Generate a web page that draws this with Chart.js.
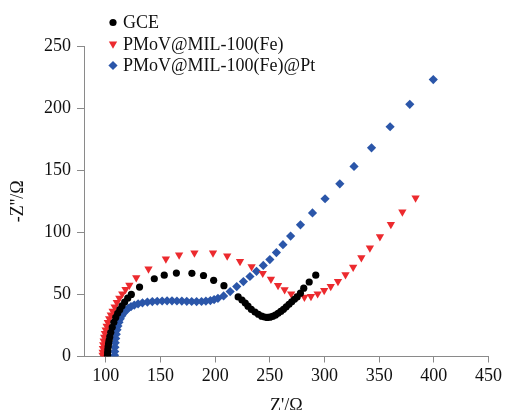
<!DOCTYPE html>
<html>
<head>
<meta charset="utf-8">
<script src="https://cdn.jsdelivr.net/npm/chart.js@4.4.1/dist/chart.umd.min.js"></script>
<style>
  html, body { margin: 0; padding: 0; background: #fff; }
  #wrap { width: 505px; height: 410px; font-family: "Liberation Serif", "DejaVu Serif", serif; }
</style>
</head>
<body>
<div id="wrap"><canvas id="eisChart" width="505" height="410"></canvas></div>
<script>
// Nyquist data (Z' / -Z'' in ohm)
const gceX = [101.5, 101.6, 101.8, 102.1, 102.5, 103, 103.6, 104.5, 105.8, 107.3, 109, 110.8, 112.7, 114.8, 117.2, 120, 123.3, 130.8, 144.3, 153.4, 164.5, 178.7, 189.3, 198.6, 208, 221, 224.5, 227.5, 230, 233, 236.4, 239.5, 242.5, 245, 247.5, 250, 252.5, 255, 257.5, 260, 262.5, 265, 267.5, 270, 272.5, 275, 278, 281, 286, 292];
const gceY = [1, 3, 5.5, 8, 10.5, 13, 16, 19.5, 23.5, 27.5, 31.5, 34.8, 37.7, 40.8, 43.8, 47, 50, 55.9, 62.6, 65.5, 67.2, 67, 65.2, 61.3, 57, 48, 45.5, 43, 40.5, 38, 35.8, 34, 32.5, 31.8, 31.5, 31.7, 32.3, 33.3, 34.8, 36.3, 38, 40, 42, 44, 46, 48, 51, 55, 60, 65.5];

const feX = [97, 97.1, 97.3, 97.6, 98, 98.5, 99.1, 99.8, 100.7, 101.8, 103, 104.5, 106.2, 108, 110, 112.3, 115, 118, 121.5, 127.8, 139, 154.9, 167, 181, 198, 211, 222.7, 233.3, 243.5, 251, 257.5, 263.5, 269.5, 275.6, 281.6, 287.6, 293.7, 299.7, 305.7, 312.3, 319.2, 326.2, 333.7, 341.5, 350.7, 360.7, 371.2, 383.3];
const feY = [1, 3.5, 6.5, 9.5, 12.5, 15.5, 18.5, 21.5, 24.5, 27.5, 30.5, 33.5, 36.5, 40, 43.5, 47, 50.5, 54, 57.5, 63.5, 70.5, 78.5, 81.8, 83.4, 83.4, 81, 76.6, 72.3, 67, 62.3, 57.3, 53.8, 50.5, 48.6, 47.8, 48.4, 50.5, 53.2, 56.5, 60.5, 65.9, 72, 79.6, 87.5, 96.5, 106.3, 116.4, 127.7];

const ptX = [108, 108.1, 108.3, 108.6, 109, 109.5, 110.2, 111, 112, 113.2, 114.6, 116.3, 118.2, 120.5, 123, 126, 129.5, 133.5, 138, 142.5, 147, 151.5, 156, 160.5, 165, 169.5, 174, 178.5, 183, 187.5, 191.5, 195.6, 199, 202.5, 207.7, 213.7, 219.7, 225.8, 231.8, 237.8, 244, 250, 256, 262, 269, 278, 289, 300.5, 314, 327, 343, 360, 378, 399.5];
const ptY = [1, 4, 7.5, 11, 14.5, 18, 21.5, 24.5, 27.5, 30.3, 32.8, 35, 37, 38.8, 40.2, 41.4, 42.4, 43.2, 43.8, 44.2, 44.5, 44.7, 44.8, 44.8, 44.7, 44.6, 44.4, 44.3, 44.2, 44.3, 44.6, 45, 45.8, 46.8, 48.8, 52.3, 56.3, 60.3, 64.4, 68.6, 73.3, 78, 83.7, 90, 97, 106, 115.6, 127, 139, 153, 168, 185, 203, 223];

const seriesNames = ['GCE', 'PMoV@MIL-100(Fe)', 'PMoV@MIL-100(Fe)@Pt'];
const xTicks = [100, 150, 200, 250, 300, 350, 400, 450];
const yTicks = [0, 50, 100, 150, 200, 250];

const toPoints = (xs, ys) => xs.map((x, i) => ({ x: x, y: ys[i] }));
const serif = '"Liberation Serif", "DejaVu Serif", serif';
const axisGray = '#8a8a8a';

Chart.defaults.font.family = serif;

// legend drawn inside the plot, top-left
const innerLegend = {
  id: 'innerLegend',
  afterDraw(chart) {
    const ctx = chart.ctx;
    ctx.save();
    ctx.font = '18px ' + serif;
    ctx.textBaseline = 'middle';
    chart.data.datasets.forEach((ds, i) => {
      const y = 22.5 + i * 21.5;
      ctx.fillStyle = ds.backgroundColor;
      Chart.helpers.drawPoint(ctx, {
        pointStyle: ds.pointStyle,
        radius: ds.pointRadius,
        rotation: ds.pointRotation || 0,
        borderWidth: 0
      }, 113, y);
      ctx.fillStyle = '#111';
      ctx.fillText(ds.label, 123, y + 1);
    });
    ctx.restore();
  }
};

const ctx = document.getElementById('eisChart').getContext('2d');
new Chart(ctx, {
  type: 'scatter',
  data: {
    datasets: [
      {
        label: seriesNames[0],
        data: toPoints(gceX, gceY),
        pointStyle: 'circle',
        pointRadius: 3.6,
        backgroundColor: '#000000',
        borderWidth: 0
      },
      {
        label: seriesNames[1],
        data: toPoints(feX, feY),
        pointStyle: 'triangle',
        pointRotation: 180,
        pointRadius: 4.8,
        backgroundColor: '#ec2a2e',
        borderWidth: 0
      },
      {
        label: seriesNames[2],
        data: toPoints(ptX, ptY),
        pointStyle: 'rectRot',
        pointRadius: 4.6,
        backgroundColor: '#2b56a9',
        borderWidth: 0
      }
    ]
  },
  options: {
    responsive: false,
    animation: false,
    layout: { padding: { top: 46, right: 12, left: 0, bottom: 0 } },
    plugins: {
      legend: { display: false },
      tooltip: { enabled: false }
    },
    scales: {
      x: {
        type: 'linear',
        min: 80,
        max: 450,
        afterBuildTicks: axis => { axis.ticks = xTicks.map(v => ({ value: v })); },
        afterFit: scale => { scale.height = 53.5; },
        border: { color: axisGray, width: 1 },
        grid: { drawOnChartArea: false, color: axisGray, tickLength: 6 },
        ticks: { color: '#111', font: { family: serif, size: 18 }, padding: 3, maxRotation: 0, autoSkip: false },
        title: { display: true, text: "Z'/Ω", color: '#111', font: { family: serif, size: 18 }, padding: { top: 0, bottom: -7 } }
      },
      y: {
        type: 'linear',
        min: 0,
        max: 250,
        afterBuildTicks: axis => { axis.ticks = yTicks.map(v => ({ value: v })); },
        afterFit: scale => { scale.width = 84; },
        border: { color: axisGray, width: 1 },
        grid: { drawOnChartArea: false, color: axisGray, tickLength: 7 },
        ticks: { color: '#111', font: { family: serif, size: 18 }, padding: 6, autoSkip: false },
        title: { display: true, text: "-Z''/Ω", color: '#111', font: { family: serif, size: 18 }, padding: { top: 7, bottom: 0 } }
      }
    }
  },
  plugins: [innerLegend]
});
</script>
</body>
</html>
